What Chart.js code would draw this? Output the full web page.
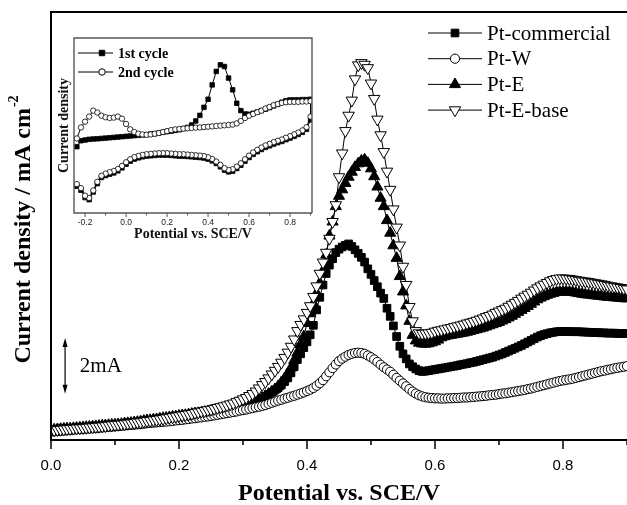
<!DOCTYPE html>
<html>
<head>
<meta charset="utf-8">
<title>Current density vs potential</title>
<script src="https://cdn.jsdelivr.net/npm/chart.js@4.4.0/dist/chart.umd.min.js"></script>
<style>
  body { margin: 0; background: #fff; }
  #wrap { position: relative; width: 627px; height: 505px; }
  #mainChart { position: absolute; left: 0; top: 0; }
  #insetChart { position: absolute; left: 56px; top: 30px; }
</style>
</head>
<body>
<div id="wrap">
  <canvas id="mainChart" width="627" height="505"></canvas>
  <canvas id="insetChart" width="262" height="215"></canvas>
</div>
<script>
// Main sweep, current density in mA (offset is arbitrary), one value every 5 mV from 0.0 to 0.9 V
const seriesNames = ["Pt-commercial", "Pt-W", "Pt-E", "Pt-E-base"];

const ptCommercial = [
  0.36,0.37,0.37,0.38,0.39,0.40,0.40,0.41,0.42,0.42,0.43,0.44,0.45,0.46,0.47,0.48,0.49,0.50,0.51,0.52,
  0.54,0.55,0.56,0.58,0.59,0.61,0.62,0.64,0.65,0.67,0.68,0.70,0.71,0.73,0.74,0.76,0.77,0.79,0.80,0.82,
  0.84,0.85,0.86,0.88,0.89,0.90,0.92,0.93,0.95,0.96,0.98,1.00,1.02,1.04,1.06,1.08,1.10,1.12,1.14,1.16,
  1.18,1.20,1.24,1.29,1.35,1.42,1.49,1.56,1.63,1.71,1.79,1.87,1.97,2.09,2.22,2.40,2.62,2.88,3.08,3.30,
  3.51,3.76,4.10,4.65,5.10,5.54,5.95,6.25,6.48,6.70,6.82,6.90,6.96,7.01,6.92,6.80,6.67,6.53,6.36,6.12,
  5.92,5.70,5.48,5.25,5.06,4.71,4.42,4.08,3.70,3.35,3.08,2.90,2.72,2.62,2.54,2.48,2.45,2.46,2.48,2.50,
  2.52,2.54,2.56,2.58,2.60,2.62,2.64,2.66,2.69,2.71,2.73,2.76,2.78,2.81,2.84,2.87,2.90,2.93,2.96,3.00,
  3.04,3.08,3.13,3.18,3.23,3.28,3.33,3.38,3.44,3.50,3.56,3.62,3.68,3.73,3.77,3.80,3.83,3.85,3.87,3.88,
  3.88,3.88,3.88,3.87,3.87,3.87,3.86,3.86,3.85,3.85,3.84,3.84,3.83,3.83,3.82,3.82,3.82,3.81,3.81,3.81,
  3.81
];

const ptW = [
  0.30,0.31,0.32,0.33,0.34,0.35,0.36,0.37,0.38,0.39,0.40,0.41,0.41,0.42,0.43,0.44,0.45,0.46,0.47,0.48,
  0.49,0.50,0.51,0.52,0.53,0.54,0.55,0.56,0.57,0.58,0.60,0.61,0.62,0.63,0.64,0.65,0.66,0.67,0.68,0.70,
  0.71,0.72,0.74,0.75,0.77,0.78,0.80,0.81,0.83,0.84,0.86,0.88,0.90,0.92,0.94,0.96,0.98,1.00,1.02,1.05,
  1.07,1.09,1.12,1.14,1.17,1.19,1.22,1.25,1.29,1.33,1.37,1.41,1.44,1.48,1.51,1.55,1.58,1.62,1.66,1.70,
  1.75,1.80,1.86,1.94,2.03,2.14,2.28,2.42,2.57,2.70,2.82,2.91,2.98,3.04,3.08,3.11,3.12,3.11,3.08,3.02,
  2.96,2.88,2.79,2.69,2.60,2.52,2.44,2.33,2.22,2.12,2.02,1.92,1.82,1.73,1.66,1.60,1.56,1.53,1.51,1.50,
  1.49,1.49,1.48,1.48,1.49,1.49,1.50,1.50,1.51,1.52,1.52,1.53,1.54,1.55,1.56,1.57,1.58,1.60,1.61,1.62,
  1.64,1.66,1.67,1.69,1.71,1.73,1.75,1.77,1.79,1.82,1.84,1.87,1.90,1.93,1.96,1.99,2.02,2.05,2.08,2.11,
  2.13,2.15,2.17,2.19,2.22,2.25,2.28,2.31,2.34,2.37,2.40,2.43,2.46,2.48,2.51,2.53,2.56,2.58,2.60,2.62,
  2.64
];

const ptE = [
  0.36,0.37,0.38,0.39,0.40,0.41,0.41,0.42,0.43,0.44,0.45,0.46,0.47,0.48,0.49,0.50,0.51,0.52,0.53,0.54,
  0.55,0.56,0.57,0.59,0.60,0.61,0.63,0.64,0.66,0.68,0.70,0.71,0.73,0.74,0.76,0.78,0.79,0.81,0.83,0.84,
  0.86,0.88,0.89,0.91,0.93,0.95,0.96,0.98,1.00,1.02,1.04,1.06,1.07,1.09,1.11,1.12,1.14,1.16,1.18,1.19,
  1.21,1.24,1.28,1.32,1.37,1.43,1.50,1.57,1.64,1.72,1.81,1.92,2.06,2.20,2.38,2.58,2.85,3.12,3.42,3.70,
  4.17,4.52,4.88,5.25,5.60,6.05,6.62,7.30,7.80,8.35,8.72,8.95,9.18,9.40,9.58,9.75,9.88,9.98,10.02,9.90,
  9.70,9.42,9.05,8.65,8.35,7.85,7.40,6.95,6.50,5.85,5.30,4.80,4.25,3.75,3.55,3.47,3.44,3.43,3.45,3.48,
  3.52,3.58,3.66,3.70,3.73,3.75,3.77,3.79,3.81,3.83,3.86,3.89,3.92,3.95,3.98,4.01,4.05,4.09,4.13,4.17,
  4.21,4.26,4.31,4.37,4.43,4.50,4.57,4.64,4.71,4.78,4.86,4.94,5.02,5.08,5.13,5.18,5.22,5.25,5.28,5.29,
  5.30,5.30,5.29,5.28,5.26,5.24,5.22,5.20,5.19,5.18,5.16,5.15,5.14,5.12,5.11,5.10,5.09,5.08,5.07,5.06,
  5.05
];

const ptEBase = [
  0.34,0.35,0.36,0.37,0.38,0.39,0.40,0.41,0.42,0.42,0.43,0.44,0.45,0.46,0.47,0.48,0.49,0.50,0.52,0.53,
  0.54,0.55,0.56,0.57,0.59,0.60,0.61,0.63,0.64,0.66,0.68,0.69,0.71,0.72,0.74,0.76,0.78,0.80,0.82,0.84,
  0.86,0.88,0.90,0.92,0.94,0.97,0.99,1.02,1.04,1.07,1.09,1.12,1.15,1.18,1.21,1.24,1.28,1.31,1.36,1.41,
  1.46,1.51,1.58,1.65,1.74,1.85,1.97,2.08,2.21,2.35,2.48,2.62,2.77,2.94,3.13,3.34,3.60,3.90,4.12,4.32,
  4.55,4.79,5.12,5.50,5.95,6.35,6.70,7.20,7.80,8.40,9.40,10.25,11.05,11.60,12.14,12.90,13.40,13.48,13.42,13.30,
  12.75,12.20,11.46,10.90,10.30,9.60,8.95,8.25,7.60,6.96,6.20,5.55,4.76,4.25,3.90,3.82,3.80,3.81,3.82,3.84,
  3.88,3.91,3.93,3.96,3.99,4.01,4.04,4.07,4.10,4.13,4.17,4.20,4.23,4.27,4.31,4.35,4.40,4.44,4.49,4.55,
  4.60,4.65,4.70,4.77,4.84,4.91,4.98,5.06,5.13,5.20,5.27,5.35,5.43,5.50,5.56,5.62,5.68,5.73,5.76,5.78,
  5.78,5.77,5.76,5.74,5.72,5.70,5.68,5.67,5.65,5.63,5.61,5.59,5.57,5.55,5.52,5.50,5.48,5.46,5.44,5.41,
  5.39
];

const potential = ptW.map((_, i) => i * 0.005);
const xTicks = [0, 0.1, 0.2, 0.3, 0.4, 0.5, 0.6, 0.7, 0.8, 0.9];

// Inset CV: forward sweep -0.24 -> 0.90 V, then the return sweep listed from 0.90 back to -0.24 V
const insetNames = ["1st cycle", "2nd cycle"];
const cycle1Forward = [
  37.9,41.3,41.7,42.1,42.3,42.4,42.6,42.8,43.0,43.2,43.4,43.6,43.8,44.0,44.2,44.4,44.6,44.7,45.1,45.3,
  45.7,46.1,46.5,46.8,47.2,47.6,48.2,48.9,50.3,52.6,55.8,60.4,65.0,73.2,80.9,84.7,83.7,77.1,70.4,62.7,
  58.5,56.6,56.4,57.0,57.7,58.5,59.3,60.2,61.2,62.1,63.3,64.2,64.6,64.6,64.6,64.8,64.8,65.0
];
const cycle1Return = [
  53.2,47.8,46.1,44.9,43.8,42.8,41.9,40.9,40.2,39.4,38.4,37.5,36.3,35.0,33.5,31.7,29.6,27.3,25.4,23.9,
  23.5,24.5,26.4,28.3,29.8,30.8,31.4,31.7,31.9,32.1,32.3,32.5,32.5,32.7,32.9,33.1,33.1,33.1,32.9,32.7,
  32.5,32.1,31.5,30.8,29.6,27.9,25.8,24.1,22.9,22.2,21.4,20.3,16.8,12.0,7.6,8.8,13.0,15.3
];
const cycle2Forward = [
  42.6,48.9,52.2,55.1,58.5,57.4,55.6,54.7,54.3,54.5,55.1,53.9,50.9,47.8,46.3,45.3,44.9,44.7,44.9,45.3,
  45.7,46.3,46.8,47.4,47.8,48.0,48.2,48.4,48.6,48.8,48.9,49.1,49.3,49.5,49.7,49.9,50.1,50.3,50.5,51.2,
  52.6,54.3,55.6,56.6,57.6,58.5,59.7,60.6,61.6,62.3,62.9,63.3,63.5,63.5,63.5,63.7,63.7,63.9
];
const cycle2Return = [
  55.1,49.0,47.2,46.0,44.9,43.9,43.0,42.0,41.3,40.5,39.5,38.6,37.4,36.1,34.6,32.8,30.7,28.4,26.5,25.0,
  24.6,25.6,27.5,29.4,30.9,31.9,32.5,32.8,33.0,33.2,33.4,33.6,33.6,33.8,34.0,34.2,34.2,34.2,34.0,33.8,
  33.6,33.2,32.6,31.9,30.7,29.0,26.9,25.2,24.0,23.3,22.5,21.3,17.8,12.9,8.6,9.9,14.2,16.5
];
const insetSweep = cycle1Forward.map((_, i) => -0.24 + i * 0.02);
const insetPotential = insetSweep.concat(insetSweep.slice().reverse());

const SERIF = '"Liberation Serif", "Times New Roman", serif';
const SANS = '"Liberation Sans", Arial, sans-serif';

function points(xs, ys) {
  return xs.map((x, i) => ({ x: x, y: ys[i] }));
}

function tickLabel(v) {
  const tenths = Math.round(v * 10);
  if (Math.abs(v * 10 - tenths) > 1e-6 || tenths % 2 !== 0) return "";
  return Math.abs(v) < 1e-9 ? "0.0" : v.toFixed(1);
}

// axis box plus outward tick marks (long on labelled ticks)
const tickFrame = {
  id: "tickFrame",
  afterDraw(chart, args, o) {
    const { ctx, chartArea: a, scales: { x } } = chart;
    ctx.save();
    ctx.strokeStyle = o.color;
    ctx.lineWidth = o.width;
    ctx.beginPath();
    ctx.moveTo(a.left, a.bottom);
    ctx.lineTo(a.left, a.top);
    ctx.lineTo(a.right, a.top);
    if (o.closed) ctx.lineTo(a.right, a.bottom);
    ctx.moveTo(a.left - o.width / 2, a.bottom);
    ctx.lineTo(a.right, a.bottom);
    ctx.stroke();
    ctx.lineWidth = o.tickWidth;
    x.ticks.forEach(t => {
      const tenths = t.value * 10;
      if (Math.abs(tenths - Math.round(tenths)) > 1e-6) return;
      const px = x.getPixelForValue(t.value);
      const len = Math.round(tenths) % 2 === 0 ? o.majorLen : o.minorLen;
      ctx.beginPath();
      ctx.moveTo(px, a.bottom);
      ctx.lineTo(px, a.bottom + len);
      ctx.stroke();
    });
    ctx.restore();
  }
};

// line + marker legend, drawn from the dataset styles
const seriesKey = {
  id: "seriesKey",
  afterDraw(chart, args, o) {
    const ctx = chart.ctx;
    ctx.save();
    ctx.font = o.font;
    ctx.textBaseline = "middle";
    ctx.fillStyle = "#000";
    chart.data.datasets.forEach((ds, i) => {
      const y = o.top + i * o.rowGap;
      ctx.strokeStyle = "#000";
      ctx.lineWidth = 1;
      ctx.beginPath();
      ctx.moveTo(o.lineFrom, y);
      ctx.lineTo(o.lineTo, y);
      ctx.stroke();
      ctx.fillStyle = ds.pointBackgroundColor;
      ctx.strokeStyle = ds.pointBorderColor;
      Chart.helpers.drawPoint(ctx, {
        pointStyle: ds.pointStyle,
        rotation: ds.pointRotation || 0,
        radius: ds.pointRadius * o.markerScale,
        borderWidth: ds.pointBorderWidth
      }, o.marker, y);
      ctx.fillStyle = "#000";
      ctx.fillText(ds.label, o.text, y + 1);
    });
    ctx.restore();
  }
};

// y title with superscript and the 2 mA scale bar
const mainNotes = {
  id: "mainNotes",
  afterDraw(chart, args, o) {
    const { ctx, chartArea: a, scales: { x, y } } = chart;
    ctx.save();
    ctx.fillStyle = "#000";
    ctx.strokeStyle = "#000";

    ctx.translate(o.titleX, (a.top + a.bottom) / 2 + o.titleShift);
    ctx.rotate(-Math.PI / 2);
    ctx.font = "bold 24px " + SERIF;
    const main = "Current density / mA cm";
    const wMain = ctx.measureText(main).width;
    ctx.font = "bold 14px " + SERIF;
    const wSup = ctx.measureText("-2").width;
    const start = -(wMain + wSup) / 2;
    ctx.textBaseline = "alphabetic";
    ctx.font = "bold 24px " + SERIF;
    ctx.fillText(main, start, 8);
    ctx.font = "bold 14px " + SERIF;
    ctx.fillText("-2", start + wMain + 1, -4);
    ctx.setTransform(1, 0, 0, 1, 0, 0);

    const bx = x.getPixelForValue(o.barAt);
    const yLo = y.getPixelForValue(o.barFrom);
    const yHi = y.getPixelForValue(o.barFrom + o.barSpan);
    ctx.lineWidth = 1.2;
    ctx.beginPath();
    ctx.moveTo(bx, yLo - 6);
    ctx.lineTo(bx, yHi + 6);
    ctx.stroke();
    [[yHi, 1], [yLo, -1]].forEach(([tip, dir]) => {
      ctx.beginPath();
      ctx.moveTo(bx, tip);
      ctx.lineTo(bx - 2.5, tip + dir * 9);
      ctx.lineTo(bx + 2.5, tip + dir * 9);
      ctx.closePath();
      ctx.fill();
    });
    ctx.font = "21px " + SERIF;
    ctx.textBaseline = "middle";
    ctx.fillText(o.barText, x.getPixelForValue(o.textAt), (yLo + yHi) / 2 + 1);
    ctx.restore();
  }
};

const mainChart = new Chart(document.getElementById("mainChart"), {
  type: "scatter",
  data: {
    datasets: [
      { label: seriesNames[0], data: points(potential, ptCommercial), order: 3,
        pointStyle: "rect", pointRadius: 5.4, pointBackgroundColor: "#000", pointBorderColor: "#000", pointBorderWidth: 1 },
      { label: seriesNames[1], data: points(potential, ptW), order: 1,
        pointStyle: "circle", pointRadius: 4.6, pointBackgroundColor: "#fff", pointBorderColor: "#000", pointBorderWidth: 1 },
      { label: seriesNames[2], data: points(potential, ptE), order: 2,
        pointStyle: "triangle", pointRadius: 6.4, pointBackgroundColor: "#000", pointBorderColor: "#000", pointBorderWidth: 1 },
      { label: seriesNames[3], data: points(potential, ptEBase), order: 0,
        pointStyle: "triangle", pointRotation: 180, pointRadius: 6.6, pointBackgroundColor: "#fff", pointBorderColor: "#000", pointBorderWidth: 1 }
    ].map(ds => Object.assign(ds, { showLine: true, borderColor: "#000", borderWidth: 1, pointHoverRadius: ds.pointRadius }))
  },
  options: {
    responsive: false,
    animation: false,
    events: [],
    layout: { autoPadding: false, padding: { top: 12, right: 0, bottom: 0, left: 0 } },
    plugins: {
      legend: { display: false },
      tooltip: { enabled: false },
      tickFrame: { color: "#000", width: 2, tickWidth: 1.5, majorLen: 9, minorLen: 5, closed: false },
      seriesKey: { font: "21px " + SERIF, top: 33, rowGap: 25.7, lineFrom: 428, lineTo: 482, marker: 455, text: 487, markerScale: 1 },
      mainNotes: { titleX: 22, titleShift: 4, barAt: 0.022, barFrom: 1.65, barSpan: 2, barText: "2mA", textAt: 0.045 }
    },
    scales: {
      x: {
        type: "linear", min: xTicks[0], max: xTicks[xTicks.length - 1],
        afterBuildTicks: s => { s.ticks = xTicks.map(v => ({ value: v })); },
        grid: { display: false, drawTicks: false },
        border: { display: false },
        ticks: { padding: 17, color: "#000", font: { family: SANS, size: 15 }, maxRotation: 0, autoSkip: false, callback: tickLabel },
        title: { display: true, text: "Potential vs. SCE/V", color: "#000", padding: 0,
                 font: { family: SERIF, size: 24, weight: "bold", lineHeight: 0.9 } },
        afterFit: s => { s.height = 65; s.paddingLeft = 0; s.paddingRight = 0; }
      },
      y: {
        min: 0, max: 15.3,
        grid: { display: false, drawTicks: false },
        border: { display: false },
        ticks: { display: false },
        afterFit: s => { s.width = 51; }
      }
    }
  },
  plugins: [tickFrame, seriesKey, mainNotes]
});

const insetChart = new Chart(document.getElementById("insetChart"), {
  type: "scatter",
  data: {
    datasets: [
      { label: insetNames[0], data: points(insetPotential, cycle1Forward.concat(cycle1Return)), order: 1,
        pointStyle: "rect", pointRadius: 3.2, pointBackgroundColor: "#000", pointBorderColor: "#000", pointBorderWidth: 0.8 },
      { label: insetNames[1], data: points(insetPotential, cycle2Forward.concat(cycle2Return)), order: 0,
        pointStyle: "circle", pointRadius: 2.7, pointBackgroundColor: "#fff", pointBorderColor: "#000", pointBorderWidth: 0.8 }
    ].map(ds => Object.assign(ds, { showLine: true, borderColor: "#000", borderWidth: 1, pointHoverRadius: ds.pointRadius }))
  },
  options: {
    responsive: false,
    animation: false,
    events: [],
    layout: { autoPadding: false, padding: { top: 8, right: 6, bottom: 0, left: 0 } },
    plugins: {
      legend: { display: false },
      tooltip: { enabled: false },
      tickFrame: { color: "#555", width: 1.4, tickWidth: 1, majorLen: 4, minorLen: 2.5, closed: true },
      seriesKey: { font: "bold 14px " + SERIF, top: 23, rowGap: 19, lineFrom: 22, lineTo: 57, marker: 46, text: 62, markerScale: 1.2 }
    },
    scales: {
      x: {
        type: "linear", min: -0.254, max: 0.907,
        ticks: { stepSize: 0.1, includeBounds: false, padding: 5, color: "#222", font: { family: SANS, size: 8.5 },
                 maxRotation: 0, autoSkip: false, callback: tickLabel },
        grid: { display: false, drawTicks: false },
        border: { display: false },
        title: { display: true, text: "Potential vs. SCE/V", color: "#111", padding: { top: 0, bottom: 2 },
                 font: { family: SERIF, size: 14, weight: "bold", lineHeight: 1.2 } },
        afterFit: s => { s.height = 32; s.paddingLeft = 0; s.paddingRight = 0; }
      },
      y: {
        min: 0, max: 100,
        grid: { display: false, drawTicks: false },
        border: { display: false },
        ticks: { display: false },
        title: { display: true, text: "Current density", color: "#111", padding: 0,
                 font: { family: SERIF, size: 14, weight: "bold", lineHeight: 1.2 } },
        afterFit: s => { s.width = 18; }
      }
    }
  },
  plugins: [tickFrame, seriesKey]
});
</script>
</body>
</html>
